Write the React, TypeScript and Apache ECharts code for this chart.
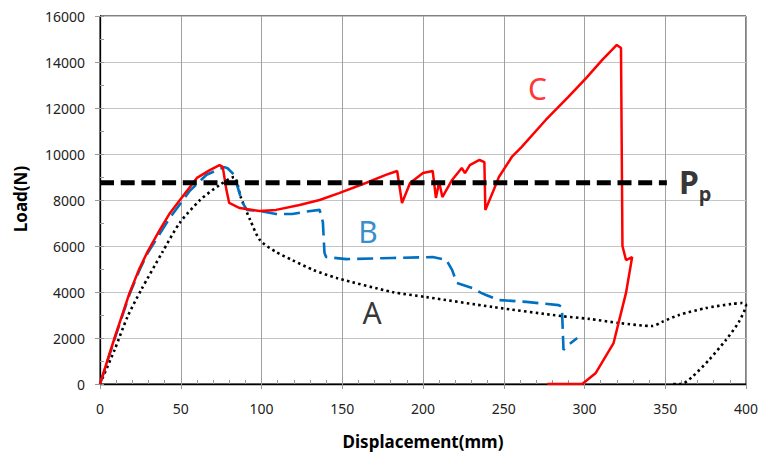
import React, { useEffect, useRef } from "react";
import * as echarts from "echarts";

// Curve C (red, solid)
const cX = [0, 9, 18.3, 24, 29.4, 37, 43, 49.5, 60, 68, 74, 76, 78.3, 80, 86.5, 99, 109, 123.6, 136, 148, 165, 177, 184, 187, 192, 200, 206, 208, 210, 212, 218, 224, 226, 229, 235, 238, 238.6, 243, 247, 255, 261, 276, 290, 301, 311, 320, 322.6, 323.5, 325.7, 329.5, 325.7, 318, 307, 298.6, 277];
const cY = [0, 2000, 3960, 4950, 5750, 6700, 7400, 8000, 8960, 9300, 9520, 9440, 8430, 7870, 7650, 7520, 7570, 7780, 8000, 8300, 8750, 9090, 9260, 7870, 8740, 9170, 9260, 8090, 8780, 8130, 8870, 9390, 9170, 9520, 9740, 9650, 7570, 8300, 9000, 9870, 10300, 11480, 12480, 13300, 14090, 14740, 14610, 6000, 5390, 5520, 3960, 1780, 480, 0, 0];

// Curve B (blue, dashed)
const bX = [0, 9, 18.3, 24, 29.4, 43, 55.6, 66, 77, 79, 83, 88, 91, 99, 109, 119, 128, 136, 138, 139, 140, 152.6, 181, 206, 214.5, 218, 221, 230.6, 236, 239, 247, 264, 284, 286, 287, 288.5, 295.5];
const bY = [0, 1950, 3900, 4880, 5680, 7200, 8400, 9100, 9430, 9380, 9100, 7910, 7570, 7520, 7390, 7390, 7500, 7570, 7040, 5700, 5520, 5430, 5480, 5520, 5390, 4960, 4390, 4170, 3960, 3870, 3650, 3570, 3430, 3350, 1480, 1610, 2000];

// Curve A (black, dotted)
const aX = [0, 9, 17, 25.5, 38.7, 49.3, 62, 74, 83, 87, 93, 99, 109, 119, 132, 146.5, 181, 202, 243, 286, 303, 321.5, 342, 348, 358.5, 375, 391, 397.5, 400, 395.6, 387.5, 377, 366.5, 360, 354];
const aY = [0, 1480, 2920, 4090, 5740, 7000, 8000, 8650, 9000, 8150, 7130, 6260, 5740, 5390, 4960, 4610, 4000, 3780, 3350, 2950, 2830, 2650, 2520, 2700, 3000, 3300, 3480, 3520, 3440, 2700, 1910, 1040, 300, 0, 0];

// Pp reference line
const ppX = [0, 351];
const ppY = [8750, 8750];

// Annotation labels
const labelText = ["A", "B", "C"];
const labelX = [168.4, 165.9, 270.9];
const labelY = [3110, 6650, 12830];
const labelColor = ["#000000", "#0070C0", "#FF0000"];

const xTicks = { min: 0, max: 400, interval: 50, minor: 10 };
const yTicks = { min: 0, max: 16000, interval: 2000, minor: 1000 };

const zip = (xs: number[], ys: number[]) => xs.map((x, i) => [x, ys[i]]);

export default function App() {
  const ref = useRef<HTMLDivElement>(null);
  useEffect(() => {
    if (!ref.current) return;
    const chart = echarts.init(ref.current, undefined, { renderer: "svg" });
    const font = "'Noto Sans', 'Open Sans', sans-serif";
    chart.setOption({
      animation: false,
      backgroundColor: "#ffffff",
      grid: {
        left: 100,
        top: 16,
        width: 646,
        height: 368,
        show: true,
        borderColor: "#000",
        borderWidth: 1,
      },
      xAxis: [
        {
          type: "value",
          min: xTicks.min,
          max: xTicks.max,
          interval: xTicks.interval,
          axisLine: { show: true, lineStyle: { color: "#000", width: 1.3 } },
          axisTick: { show: true, inside: false, length: 5, lineStyle: { color: "#999" } },
          axisLabel: { fontSize: 14, margin: 17, color: "#222", fontFamily: font },
          splitLine: { show: true, lineStyle: { color: "#A0A0A0", width: 1 } },
        },
        {
          type: "value",
          position: "bottom",
          min: xTicks.min,
          max: xTicks.max,
          interval: xTicks.minor,
          axisLine: { show: false },
          axisTick: { show: true, inside: true, length: 4, lineStyle: { color: "#999" } },
          axisLabel: { show: false },
          splitLine: { show: false },
        },
      ],
      yAxis: [
        {
          type: "value",
          min: yTicks.min,
          max: yTicks.max,
          interval: yTicks.interval,
          axisLine: { show: true, lineStyle: { color: "#000", width: 1.3 } },
          axisTick: { show: true, inside: false, length: 5, lineStyle: { color: "#999" } },
          axisLabel: {
            fontSize: 14,
            margin: 15,
            color: "#222",
            fontFamily: font,
            formatter: (v: number) => String(v),
          },
          splitLine: { show: true, lineStyle: { color: "#C4C4C4", width: 1 } },
        },
        {
          type: "value",
          position: "left",
          min: yTicks.min,
          max: yTicks.max,
          interval: yTicks.minor,
          axisLine: { show: false },
          axisTick: { show: true, inside: true, length: 4, lineStyle: { color: "#999" } },
          axisLabel: { show: false },
          splitLine: { show: false },
        },
      ],
      series: [
        {
          type: "line",
          name: "A",
          data: zip(aX, aY),
          showSymbol: false,
          symbol: "none",
          smooth: 0.25,
          lineStyle: { color: "#000", width: 2.6, type: [2.5, 3.3] },
          z: 2,
        },
        {
          type: "line",
          name: "B",
          data: zip(bX, bY),
          showSymbol: false,
          symbol: "none",
          lineStyle: { color: "#0070C0", width: 2.6, type: [16, 7] },
          z: 3,
        },
        {
          type: "line",
          name: "C",
          data: zip(cX, cY),
          showSymbol: false,
          symbol: "none",
          lineStyle: { color: "#FF0000", width: 2.5 },
          z: 4,
        },
        {
          type: "line",
          name: "Pp",
          data: zip(ppX, ppY),
          showSymbol: false,
          symbol: "none",
          lineStyle: { color: "#000", width: 5, type: [14, 6.7] },
          z: 5,
        },
        {
          type: "scatter",
          symbolSize: 1,
          itemStyle: { color: "transparent" },
          data: labelText.map((t, i) => ({
            value: [labelX[i], labelY[i]],
            label: {
              show: true,
              position: "inside",
              formatter: t,
              fontSize: 30,
              color: labelColor[i],
              fontFamily: font,
            },
          })),
          z: 6,
        },
        {
          type: "scatter",
          symbolSize: 1,
          itemStyle: { color: "transparent" },
          data: [
            {
              value: [364.7, 8800],
              label: { show: true, position: "inside", formatter: "P", fontSize: 32, fontWeight: "bold", color: "#000", fontFamily: font },
            },
            {
              value: [374.6, 8300],
              label: { show: true, position: "inside", formatter: "p", fontSize: 20, fontWeight: "bold", color: "#000", fontFamily: font },
            },
          ],
          z: 6,
        },
      ],
      graphic: [
        {
          type: "text",
          x: 423,
          y: 441,
          style: {
            text: "Displacement(mm)",
            font: `bold 17px ${font}`,
            fill: "#000",
            textAlign: "center",
            textVerticalAlign: "middle",
          },
        },
        {
          type: "text",
          x: 20,
          y: 199,
          rotation: Math.PI / 2,
          style: {
            text: "Load(N)",
            font: `bold 17px ${font}`,
            fill: "#000",
            textAlign: "center",
            textVerticalAlign: "middle",
          },
        },
      ],
    });
    return () => chart.dispose();
  }, []);
  return (
    <div
      ref={ref}
      style={{ position: "fixed", left: 0, top: 0, width: 762, height: 461 }}
    />
  );
}
